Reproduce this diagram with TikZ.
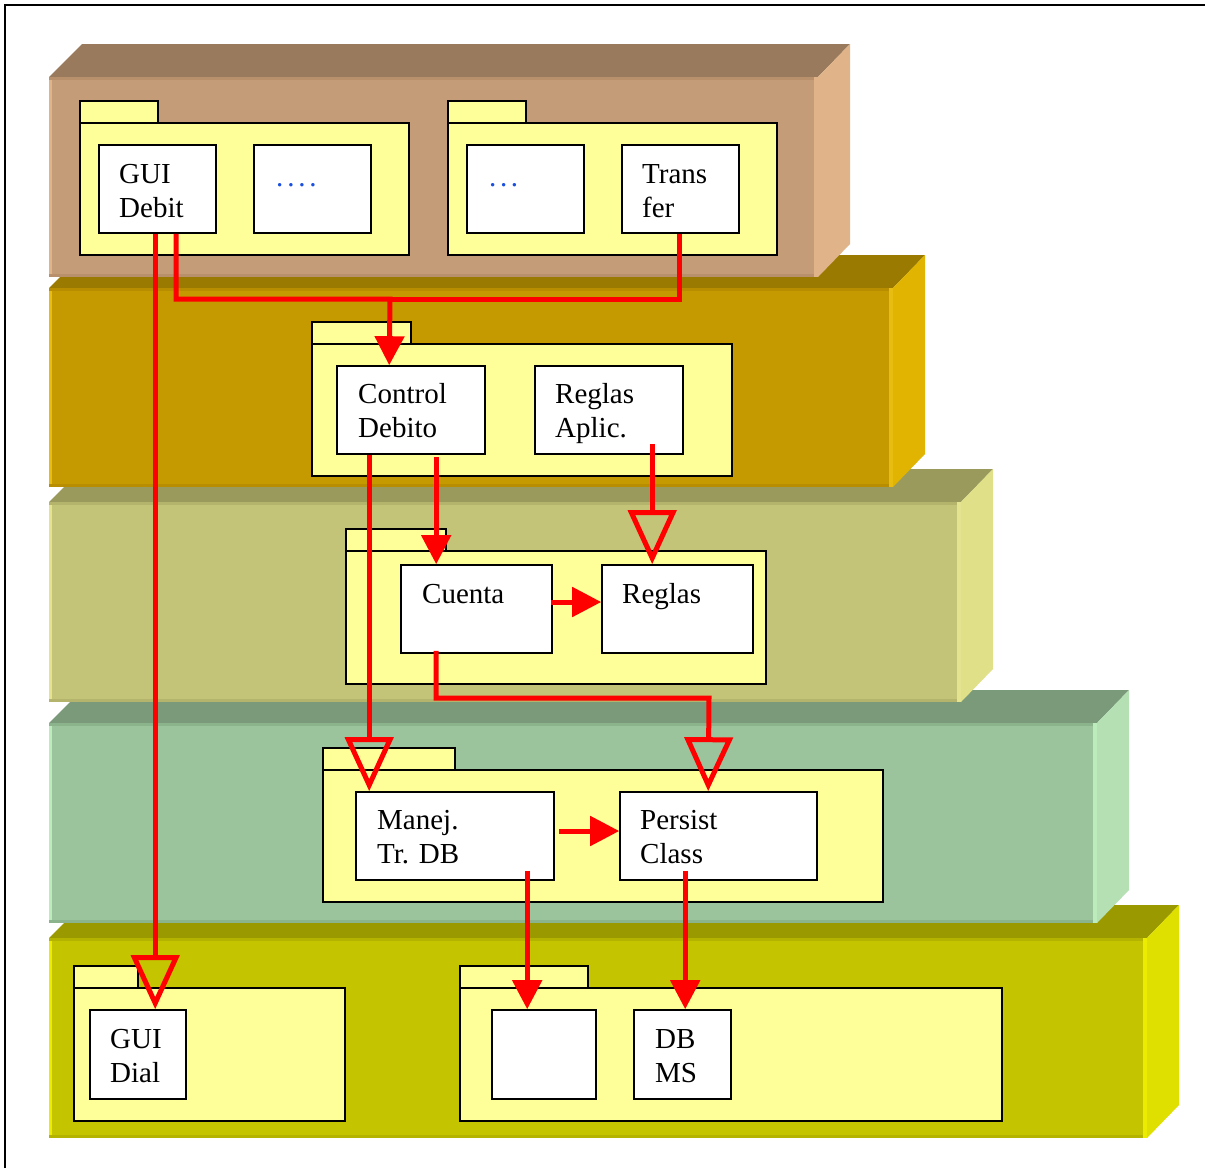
\documentclass[tikz,border=0pt]{standalone}
\usepackage{fontspec}
\setmainfont{Liberation Serif}
\usetikzlibrary{arrows.meta,fit}

% slab colours: front, top, side, dark rim, light rim
\definecolor{aFront}{HTML}{C49C78}\definecolor{aTop}{HTML}{9A7A5C}\definecolor{aSide}{HTML}{E0B488}\definecolor{aRim}{HTML}{B8906C}\definecolor{aLight}{HTML}{E0B488}
\definecolor{bFront}{HTML}{C49A00}\definecolor{bTop}{HTML}{9A7A00}\definecolor{bSide}{HTML}{E0B400}\definecolor{bRim}{HTML}{B88E00}\definecolor{bLight}{HTML}{E8BC10}
\definecolor{cFront}{HTML}{C4C478}\definecolor{cTop}{HTML}{9A9A5C}\definecolor{cSide}{HTML}{E0E088}\definecolor{cRim}{HTML}{B4B46C}\definecolor{cLight}{HTML}{E4E490}
\definecolor{dFront}{HTML}{9CC49C}\definecolor{dTop}{HTML}{7A9A7A}\definecolor{dSide}{HTML}{B4E0B4}\definecolor{dRim}{HTML}{8CB48C}\definecolor{dLight}{HTML}{BCECBC}
\definecolor{eFront}{HTML}{C4C400}\definecolor{eTop}{HTML}{9A9A00}\definecolor{eSide}{HTML}{E0E000}\definecolor{eRim}{HTML}{B4B400}\definecolor{eLight}{HTML}{ECEC00}
\definecolor{pkgFill}{HTML}{FFFF99}
\definecolor{dotBlue}{HTML}{1A4FE0}

% a layer slab: #1 left, #2 top, #3 right, #4 bottom, #5 colour prefix
\newcommand\layerslab[5]{%
  \fill[#5Top] (#1,#2) -- (#1+33,#2-33) -- (#3+32,#2-33) -- (#3,#2) -- cycle;
  \fill[#5Side] (#3,#2) -- (#3+32,#2-33) -- (#3+32,#4-33) -- (#3,#4) -- cycle;
  \fill[#5Front] (#1,#2) rectangle (#3,#4);
  \fill[#5Rim] (#1,#2) rectangle (#3,#2+3);
  \fill[#5Rim] (#1,#4-3) rectangle (#3,#4);
  \fill[#5Light] (#1,#2+3) rectangle (#1+3,#4-3);
  \fill[#5Light] (#3-4,#2) rectangle (#3,#4);
}
% a UML package: #1 left, #2 tab top, #3 tab right, #4 body right, #5 body bottom
\newcommand\umlpkg[5]{%
  \draw[pkgline] (#1,#2) rectangle (#3,#2+22);
  \draw[pkgline] (#1,#2+22) rectangle (#4,#5);
}

\begin{document}
\begin{tikzpicture}[x=1pt,y=-1pt,
  pkgline/.style={draw=black,fill=pkgFill,line width=1.6pt},
  cbox/.style={draw=black,fill=white,line width=1.6pt,inner sep=0pt},
  lbl/.style={anchor=base west,align=left,inner sep=0pt,
    font=\fontsize{29}{34}\selectfont},
  redline/.style={draw=red,line width=5pt,line cap=butt,line join=miter},
  dep/.style={redline,-{Triangle[length=29pt,width=29pt]}},
  gen/.style={redline,-{Triangle[open,length=54pt,width=48pt]}}]

\useasboundingbox (0,0) rectangle (1205,1168);
\fill[white] (0,0) rectangle (1205,1168);
\draw[line width=1.6pt] (5,1168) -- (5,5) -- (1205,5);

% layers, drawn from the bottom one up
\layerslab{49}{938}{1147}{1138}{e}
\layerslab{49}{723}{1097}{923}{d}
\layerslab{49}{502}{961}{702}{c}
\layerslab{49}{288}{893}{487}{b}
\layerslab{49}{77}{818}{277}{a}

% packages
\umlpkg{80}{101}{158}{409}{255}
\umlpkg{448}{101}{526}{777}{255}
\umlpkg{312}{322}{411}{732}{476}
\umlpkg{346}{529}{446}{766}{684}
\umlpkg{323}{748}{455}{883}{902}
\umlpkg{74}{966}{138}{345}{1121}
\umlpkg{460}{966}{588}{1002}{1121}

% classes
\node[cbox,fit={(99,145) (216,233)}] (guidebit) {};
\node[cbox,fit={(254,145) (371,233)}] (dotsA) {};
\node[cbox,fit={(467,145) (584,233)}] (dotsB) {};
\node[cbox,fit={(622,145) (739,233)}] (transfer) {};
\node[cbox,fit={(337,366) (485,454)}] (ctrl) {};
\node[cbox,fit={(535,366) (683,454)}] (reglasap) {};
\node[cbox,fit={(401,565) (552,653)}] (cuenta) {};
\node[cbox,fit={(602,565) (753,653)}] (reglas) {};
\node[cbox,fit={(356,792) (554,880)}] (manej) {};
\node[cbox,fit={(620,792) (817,880)}] (persist) {};
\node[cbox,fit={(90,1010) (186,1099)}] (guidial) {};
\node[cbox,fit={(492,1010) (596,1099)}] (emptybox) {};
\node[cbox,fit={(634,1010) (731,1099)}] (dbms) {};

% class names (two-line names are placed by the baseline of their last line)
\node[lbl] (tGuiDebit) at (119,217) {GUI\\Debit};
\node[lbl,text=dotBlue] (tDotsA) at (276,186) {.\kern3.8pt.\kern3.8pt.\kern3.8pt.};
\node[lbl,text=dotBlue] (tDotsB) at (489,186) {.\kern3.6pt.\kern3.6pt.};
\node[lbl] (tTransfer) at (642,217) {Trans\\fer};
\node[lbl] (tCtrl) at (358,437) {Control\\Debito};
\node[lbl] (tReglasAp) at (555,437) {Reglas\\Aplic.};
\node[lbl] (tCuenta) at (422,603) {Cuenta};
\node[lbl] (tReglas) at (622,603) {Reglas};
\node[lbl] (tManej) at (377,863) {Manej.\\Tr. DB};
\node[lbl] (tPersist) at (640,863) {Persist\\Class};
\node[lbl] (tGuiDial) at (110,1082) {GUI\\Dial};
\node[lbl] (tDbms) at (655,1082) {DB\\MS};

% dependencies
\coordinate (bus) at (390,299);
\coordinate (turn) at (709,698);
\draw[gen] ([xshift=57pt]guidebit.south west) -- ([xshift=66pt]guidial.north west);
\draw[redline] ([xshift=58pt]transfer.south west) |- (bus);
\draw[dep] ([xshift=78pt]guidebit.south west) |- (bus) -- ([xshift=53pt]ctrl.north west);
\draw[gen] ([xshift=33pt]ctrl.south west) -- ([xshift=14pt]manej.north west);
\draw[dep] ([xshift=100pt,yshift=-2pt]ctrl.south west) -- ([xshift=36pt]cuenta.north west);
\draw[gen] ([xshift=118pt,yshift=11pt]reglasap.south west) -- ([xshift=51pt]reglas.north west);
\draw[dep] ([xshift=-2pt,yshift=7pt]cuenta.east) -- ([yshift=7pt]reglas.west);
\draw[gen] ([xshift=36pt,yshift=3pt]cuenta.south west) |- (turn) -- ([xshift=89pt]persist.north west);
\draw[dep] ([xshift=4pt,yshift=5pt]manej.east) -- ([yshift=5pt]persist.west);
\draw[dep] ([xshift=172pt,yshift=10pt]manej.south west) -- ([xshift=36pt]emptybox.north west);
\draw[dep] ([xshift=66pt,yshift=10pt]persist.south west) -- ([xshift=52pt]dbms.north west);
\end{tikzpicture}
\end{document}
